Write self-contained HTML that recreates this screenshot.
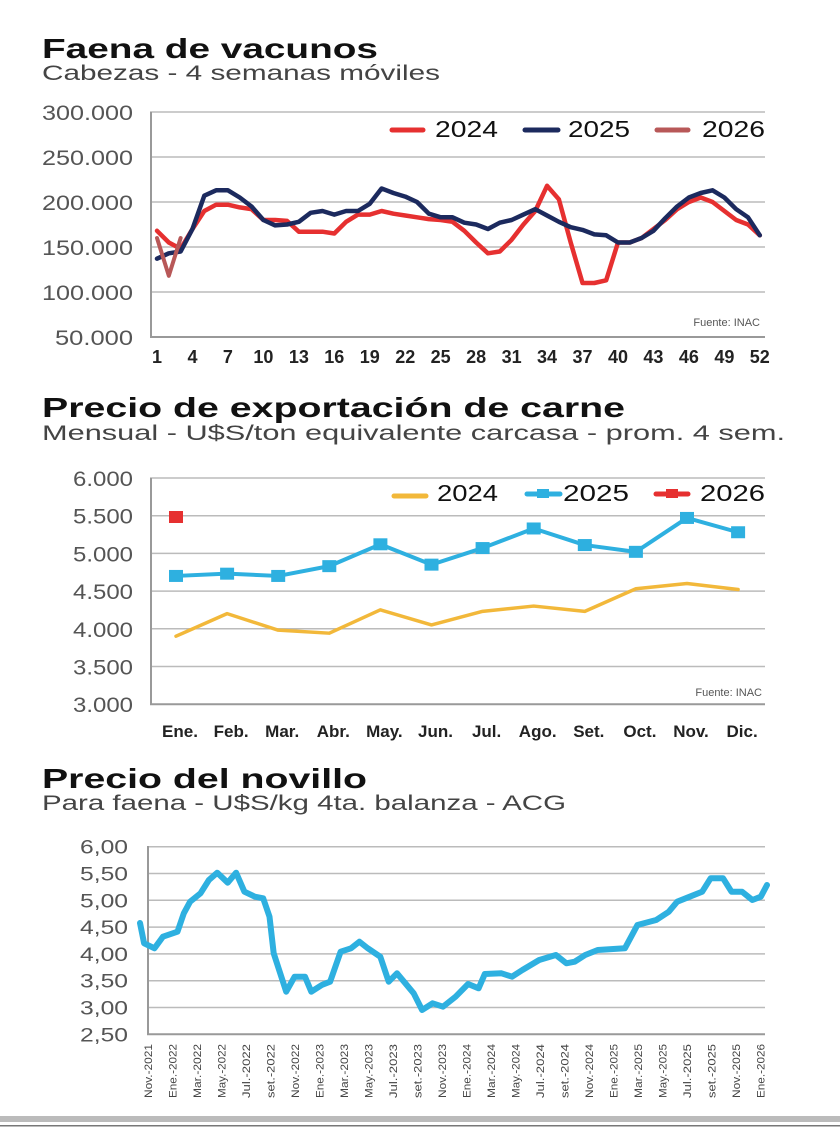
<!DOCTYPE html>
<html><head><meta charset="utf-8"><style>
body{margin:0;background:#fff;width:840px;height:1138px;overflow:hidden}
svg{display:block}
text{font-family:"Liberation Sans",sans-serif}
</style></head><body>
<svg id="s" width="840" height="1138" xmlns="http://www.w3.org/2000/svg">
<text x="42" y="58" font-size="28" font-weight="bold" fill="#111" textLength="336" lengthAdjust="spacingAndGlyphs">Faena de vacunos</text>
<text x="42" y="80" font-size="21" fill="#444" textLength="398" lengthAdjust="spacingAndGlyphs">Cabezas - 4 semanas móviles</text>
<text x="42" y="417" font-size="28" font-weight="bold" fill="#111" textLength="583" lengthAdjust="spacingAndGlyphs">Precio de exportación de carne</text>
<text x="42" y="440" font-size="21" fill="#444" textLength="743" lengthAdjust="spacingAndGlyphs">Mensual - U$S/ton equivalente carcasa - prom. 4 sem.</text>
<text x="42" y="788" font-size="28" font-weight="bold" fill="#111" textLength="325" lengthAdjust="spacingAndGlyphs">Precio del novillo</text>
<text x="42" y="810" font-size="21" fill="#444" textLength="524" lengthAdjust="spacingAndGlyphs">Para faena - U$S/kg 4ta. balanza - ACG</text>
<rect x="0" y="1116" width="840" height="6" fill="#bbb"/>
<rect x="0" y="1125" width="840" height="1.5" fill="#777"/>
<g id="g"></g>
</svg>
<script>
const g=document.getElementById('g');let h='';
function line(x1,y1,x2,y2,c,w){h+=`<line x1="${x1}" y1="${y1}" x2="${x2}" y2="${y2}" stroke="${c}" stroke-width="${w}" stroke-linecap="round"/>`}
function txt(x,y,t,o){h+=`<text x="${x}" y="${y}" ${o||''}>${t}</text>`}
function pl(pts,c,w){h+=`<polyline points="${pts.map(p=>p.join(',')).join(' ')}" fill="none" stroke="${c}" stroke-width="${w}" stroke-linejoin="round" stroke-linecap="round"/>`}
const LA='lengthAdjust="spacingAndGlyphs"';
// chart1
const c1=['300.000','250.000','200.000','150.000','100.000','50.000'];
c1.forEach((l,i)=>{let y=112+i*45;h+=`<line x1="150" y1="${y}" x2="765" y2="${y}" stroke="${i==5?'#999':'#bbb'}" stroke-width="${i==5?2:1.5}"/>`;let w=i<5?91:78;txt(133-w,y+8,l,`font-size="21" fill="#555" textLength="${w}" ${LA}`)});
h+=`<line x1="151" y1="112" x2="151" y2="337" stroke="#999" stroke-width="2"/>`;
for(let w=1;w<=52;w+=3)txt(157+(w-1)*11.82,363,w,'font-size="18" font-weight="bold" fill="#222" text-anchor="middle"');
txt(760,326,'Fuente: INAC','font-size="11" fill="#555" text-anchor="end"');
const a24=[168,155,148,170,190,197,197,194,192,180,180,179,167,167,167,165,178,186,186,190,187,185,183,181,180,178,168,155,143,145,158,175,190,218,203,155,110,110,113,155,155,160,170,180,192,200,205,200,190,180,175,163];
const a25=[137,143,145,170,207,213,213,205,195,180,174,175,178,188,190,186,190,190,198,215,210,206,200,187,183,183,177,175,170,177,180,186,192,185,178,172,169,164,163,155,155,160,168,182,195,205,210,213,205,192,183,163];
const m1=(a)=>a.map((v,i)=>[157+i*11.82,337-(v-50)*0.9]);
pl(m1(a24),'#e63030',4.5);pl(m1(a25),'#1c2a5e',4.5);pl(m1([160,118,160]),'#b85858',4);
line(392,130,423,130,'#e63030',5);txt(435,137,'2024',`font-size="23" fill="#111" textLength="63" ${LA}`);
line(525,130,558,130,'#1c2a5e',5);txt(568,137,'2025',`font-size="23" fill="#111" textLength="62" ${LA}`);
line(657,130,688,130,'#b85858',5);txt(702,137,'2026',`font-size="23" fill="#111" textLength="63" ${LA}`);
// chart2
const c2=['6.000','5.500','5.000','4.500','4.000','3.500','3.000'];
c2.forEach((l,i)=>{let y=478+i*37.7;h+=`<line x1="150" y1="${y}" x2="765" y2="${y}" stroke="${i==6?'#999':'#bbb'}" stroke-width="${i==6?2:1.5}"/>`;txt(73,y+8,l,`font-size="21" fill="#555" textLength="60" ${LA}`)});
h+=`<line x1="151" y1="478" x2="151" y2="704" stroke="#999" stroke-width="2"/>`;
['Ene.','Feb.','Mar.','Abr.','May.','Jun.','Jul.','Ago.','Set.','Oct.','Nov.','Dic.'].forEach((m,i)=>txt(180+i*51.1,737,m,'font-size="17" font-weight="bold" fill="#222" text-anchor="middle"'));
txt(762,696,'Fuente: INAC','font-size="11" fill="#555" text-anchor="end"');
const b24=[3900,4200,3980,3940,4250,4050,4230,4300,4230,4530,4600,4520];
const b25=[4700,4730,4700,4830,5120,4850,5070,5330,5110,5020,5470,5280];
const m2=(a)=>a.map((v,i)=>[176+i*51.1,704-(v-3000)*0.07533]);
pl(m2(b24),'#f2b83a',3.5);pl(m2(b25),'#2eb0e0',4);
m2(b25).forEach(p=>h+=`<rect x="${p[0]-7}" y="${p[1]-6}" width="14" height="12" fill="#2eb0e0"/>`);
h+=`<rect x="169" y="511" width="14" height="12" fill="#e63030"/>`;
line(394,496,426,496,'#f2b83a',5);txt(437,501,'2024',`font-size="23" fill="#111" textLength="61" ${LA}`);
line(527,494,560,494,'#2eb0e0',5);h+=`<rect x="537" y="489" width="12" height="9" fill="#2eb0e0"/>`;txt(563,501,'2025',`font-size="23" fill="#111" textLength="66" ${LA}`);
line(656,494,688,494,'#e63030',5);h+=`<rect x="666" y="489" width="12" height="9" fill="#e63030"/>`;txt(700,501,'2026',`font-size="23" fill="#111" textLength="65" ${LA}`);
// chart3
const c3=['6,00','5,50','5,00','4,50','4,00','3,50','3,00','2,50'];
c3.forEach((l,i)=>{let y=846.7+i*26.8;h+=`<line x1="147" y1="${y}" x2="765" y2="${y}" stroke="${i==7?'#999':'#bbb'}" stroke-width="${i==7?2:1.5}"/>`;txt(80,y+7,l,`font-size="19" fill="#555" textLength="48" ${LA}`)});
h+=`<line x1="148" y1="846" x2="148" y2="1034" stroke="#999" stroke-width="2"/>`;
const pts=[[140,923],[144.1,943.3],[154.5,948.3],[162.9,936.7],[177.5,931.7],[183.8,913.3],[190.1,901.7],[200.5,893.3],[208.9,880],[217.2,872.7],[227.7,882.7],[236.1,872.7],[244.4,891.7],[254.9,896.7],[263.2,898.3],[269.5,916.7],[273.7,953.3],[286.2,991.7],[294.6,976.7],[305,976.7],[311.3,991.7],[321.8,985],[330.1,981.7],[340.6,951.7],[351,948.3],[359.4,941.7],[367.8,948.3],[380.3,956.7],[388.7,981.7],[397,973.3],[413.7,993.3],[422.1,1010],[432.6,1003.3],[443,1006.7],[455.6,996.7],[468.1,984],[478.6,988.3],[484.8,974],[501.5,973.3],[512,976.7],[522.4,970],[539.2,960],[555.9,955],[566.4,963.3],[574.7,961.7],[585.2,955],[597.7,950],[624.9,948.3],[637.4,925],[656.2,920],[668.8,911.7],[677.2,901.7],[689.7,896.7],[702.2,891.7],[710.6,878.3],[723.1,878.3],[731.5,891.7],[742,891.7],[752.4,900],[760.8,896.7],[767,885]];
pl(pts,'#2eb0e0',6);
const lb=['Nov.-2021','Ene.-2022','Mar.-2022','May.-2022','Jul.-2022','set.-2022','Nov.-2022','Ene.-2023','Mar.-2023','May.-2023','Jul.-2023','set.-2023','Nov.-2023','Ene.-2024','Mar.-2024','May.-2024','Jul.-2024','set.-2024','Nov.-2024','Ene.-2025','Mar.-2025','May.-2025','Jul.-2025','set.-2025','Nov.-2025','Ene.-2026'];
lb.forEach((l,i)=>{let x=148+i*24.5+4;txt(0,0,l,`font-size="11" fill="#444" text-anchor="end" textLength="54" ${LA} transform="translate(${x},1044) rotate(-90)"`)});
g.innerHTML=h;
</script>
</body></html>
